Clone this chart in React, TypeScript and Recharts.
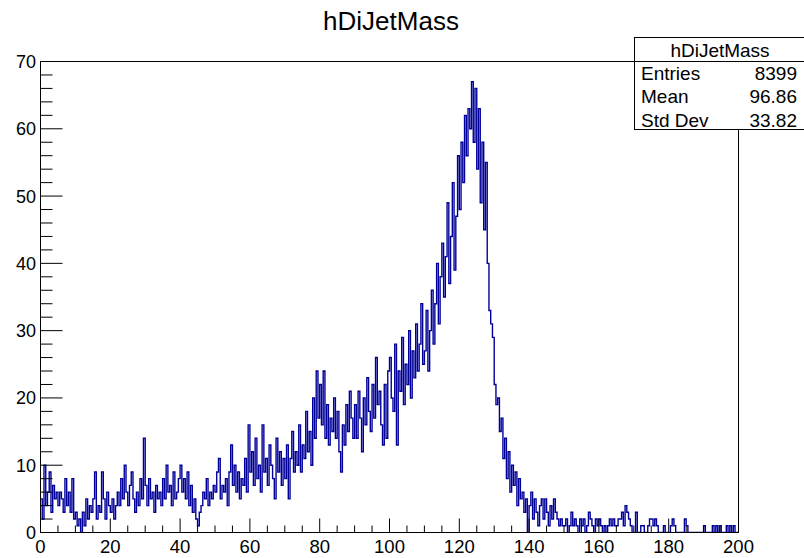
import React from 'react';
import { ComposedChart, Line, XAxis, YAxis, ReferenceArea } from 'recharts';

// Histogram settings
const BIN_WIDTH = 0.5;
const X_MIN = 0;
const X_MAX = 200;
const Y_MIN = 0;
const Y_MAX = 70;

// Bin contents, 20 bins (0.5 wide) per 10-unit slice
const counts000 = [5, 2, 10, 4, 6, 9, 3, 7, 5, 6, 4, 6, 5, 3, 8, 4, 6, 3, 8, 2];
const counts010 = [3, 1, 2, 0, 3, 1, 5, 2, 4, 3, 5, 9, 2, 4, 3, 9, 5, 2, 6, 4];
const counts020 = [3, 5, 2, 4, 6, 4, 8, 5, 10, 6, 4, 7, 9, 5, 3, 6, 4, 8, 5, 14];
const counts030 = [7, 4, 8, 5, 6, 3, 7, 5, 6, 4, 8, 5, 10, 6, 7, 4, 9, 5, 6, 8];
const counts040 = [10, 6, 8, 5, 9, 4, 7, 3, 5, 2, 1, 3, 4, 6, 5, 8, 4, 6, 5, 7];
const counts050 = [6, 9, 11, 5, 7, 6, 8, 4, 9, 13, 7, 10, 6, 9, 5, 8, 7, 11, 6, 16];
const counts060 = [9, 12, 7, 14, 8, 10, 6, 16, 9, 11, 7, 13, 10, 8, 5, 14, 9, 12, 7, 11];
const counts070 = [8, 13, 5, 11, 15, 9, 12, 10, 16, 9, 13, 11, 18, 12, 15, 10, 20, 14, 24, 17];
const counts080 = [22, 16, 24, 14, 19, 13, 17, 15, 20, 14, 18, 12, 9, 16, 13, 19, 15, 21, 17, 14];
const counts090 = [19, 14, 21, 17, 12, 20, 16, 23, 18, 15, 22, 17, 26, 19, 21, 16, 13, 22, 14, 24];
const counts100 = [26, 20, 18, 28, 13, 24, 21, 29, 19, 25, 22, 30, 20, 27, 23, 31, 24, 28, 34, 25];
const counts110 = [27, 33, 24, 30, 36, 28, 34, 40, 31, 38, 43, 35, 41, 49, 37, 44, 52, 39, 47, 56];
const counts120 = [48, 58, 52, 62, 56, 63, 60, 67, 58, 66, 54, 63, 49, 58, 45, 55, 40, 33, 31, 29];
const counts130 = [22, 19, 20, 15, 17, 11, 14, 8, 12, 6, 10, 7, 9, 4, 8, 5, 6, 3, 5, 0];
const counts140 = [4, 6, 2, 5, 3, 1, 4, 5, 2, 5, 3, 1, 4, 2, 5, 3, 2, 1, 2, 1];
const counts150 = [1, 2, 0, 1, 3, 1, 2, 1, 0, 2, 1, 2, 0, 1, 3, 2, 1, 0, 2, 1];
const counts160 = [2, 1, 0, 1, 0, 1, 2, 1, 2, 1, 1, 2, 2, 3, 1, 4, 3, 2, 1, 0];
const counts170 = [0, 3, 0, 0, 1, 1, 0, 0, 1, 2, 2, 1, 2, 1, 0, 0, 0, 1, 0, 0];
const counts180 = [0, 1, 2, 1, 0, 0, 0, 0, 0, 2, 1, 0, 0, 0, 0, 0, 0, 0, 0, 0];
const counts190 = [1, 0, 0, 0, 0, 1, 0, 1, 0, 1, 0, 0, 0, 1, 0, 1, 0, 1, 0, 0];

// Axis ticks
const xMajorTicks = [0, 20, 40, 60, 80, 100, 120, 140, 160, 180, 200];
const xMinorStep = 5;
const yMajorTicks = [0, 10, 20, 30, 40, 50, 60, 70];
const yMinorStep = 2;

// Title and statistics box
const title = 'hDiJetMass';
const statLabels = ['Entries', 'Mean', 'Std Dev'];
const statValues = ['8399', '96.86', '33.82'];

const counts = [
  ...counts000, ...counts010, ...counts020, ...counts030, ...counts040,
  ...counts050, ...counts060, ...counts070, ...counts080, ...counts090,
  ...counts100, ...counts110, ...counts120, ...counts130, ...counts140,
  ...counts150, ...counts160, ...counts170, ...counts180, ...counts190,
];

const data = [
  ...counts.map((c, i) => ({ x: X_MIN + i * BIN_WIDTH, y: c })),
  { x: X_MAX, y: counts[counts.length - 1] },
];

const xTicks: number[] = [];
for (let v = X_MIN; v <= X_MAX; v += xMinorStep) xTicks.push(v);
const yTicks: number[] = [];
for (let v = Y_MIN; v <= Y_MAX; v += yMinorStep) yTicks.push(v);

const FONT = '"Liberation Sans", Arial, Helvetica, sans-serif';

const YTick = (props: any) => {
  const { x, y, payload } = props;
  const v = payload.value;
  const major = yMajorTicks.includes(v);
  return (
    <g>
      <line x1={x} y1={y} x2={x + (major ? 22 : 12)} y2={y} stroke="#000" strokeWidth={1} />
      {major && (
        <text x={x - 4.5} y={y + 6.5} textAnchor="end" fontSize={18} fill="#000" fontFamily={FONT}>
          {v}
        </text>
      )}
    </g>
  );
};

const XTick = (props: any) => {
  const { x, y, payload } = props;
  const v = payload.value;
  const major = xMajorTicks.includes(v);
  return (
    <g>
      <line x1={x} y1={y} x2={x} y2={y - (major ? 14 : 7)} stroke="#000" strokeWidth={1} />
      {major && (
        <text x={x} y={y + 20.5} textAnchor="middle" fontSize={18.5} fill="#000" fontFamily={FONT}>
          {v}
        </text>
      )}
    </g>
  );
};

export default function App() {
  return (
    <div style={{ position: 'absolute', left: 0, top: 0, width: 804, height: 558, overflow: 'hidden', background: '#fff' }}>
      <ComposedChart
        width={804}
        height={558}
        data={data}
        margin={{ top: 61.5, right: 65.5, bottom: 0.5, left: 0.5 }}
      >
        <XAxis
          dataKey="x"
          type="number"
          domain={[X_MIN, X_MAX]}
          ticks={xTicks}
          interval={0}
          height={25}
          tickSize={0}
          tickMargin={0}
          tickLine={false}
          axisLine={{ stroke: '#000', strokeWidth: 1 }}
          tick={(p: any) => <XTick {...p} />}
          allowDataOverflow
        />
        <YAxis
          type="number"
          domain={[Y_MIN, Y_MAX]}
          ticks={yTicks}
          interval={0}
          width={40}
          tickSize={0}
          tickMargin={0}
          tickLine={false}
          axisLine={{ stroke: '#000', strokeWidth: 1 }}
          tick={(p: any) => <YTick {...p} />}
          allowDataOverflow
        />
        <ReferenceArea
          x1={X_MIN}
          x2={X_MAX}
          y1={Y_MIN}
          y2={Y_MAX}
          fill="none"
          fillOpacity={0}
          stroke="#000"
          strokeWidth={1}
          ifOverflow="visible"
        />
        <Line
          dataKey="y"
          type="stepAfter"
          stroke="#000099"
          strokeWidth={1.4}
          dot={false}
          activeDot={false}
          isAnimationActive={false}
        />
      </ComposedChart>
      <svg
        width={804}
        height={558}
        style={{ position: 'absolute', left: 0, top: 0, pointerEvents: 'none' }}
      >
        <text x={391} y={30} textAnchor="middle" fontSize={26} fill="#000" fontFamily={FONT}>
          {title}
        </text>
        <rect x={634.5} y={37.5} width={172} height={92} fill="#fff" stroke="#000" strokeWidth={1} />
        <line x1={634.5} y1={61.5} x2={806} y2={61.5} stroke="#000" strokeWidth={1} />
        <text x={720} y={56.5} textAnchor="middle" fontSize={19} fill="#000" fontFamily={FONT}>
          {title}
        </text>
        {statLabels.map((lab, i) => (
          <g key={lab}>
            <text x={641} y={80 + i * 23.3} fontSize={19} fill="#000" fontFamily={FONT}>
              {lab}
            </text>
            <text x={797} y={80 + i * 23.3} textAnchor="end" fontSize={19} fill="#000" fontFamily={FONT}>
              {statValues[i]}
            </text>
          </g>
        ))}
      </svg>
    </div>
  );
}
